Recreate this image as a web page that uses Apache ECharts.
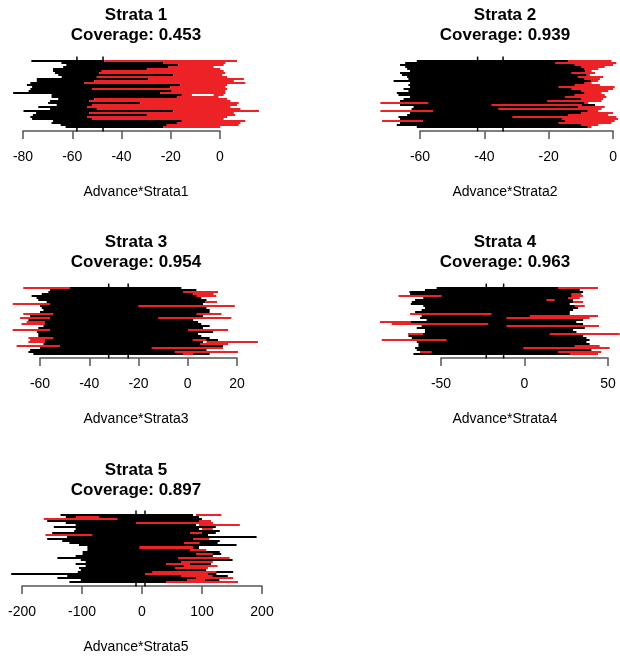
<!DOCTYPE html>
<html>
<head>
<meta charset="utf-8">
<script src="https://cdn.jsdelivr.net/npm/echarts@6/dist/echarts.min.js"></script>
<style>
  html, body { margin: 0; padding: 0; background: #fff; }
  #chart { width: 620px; height: 660px; }
</style>
</head>
<body>
<div id="chart"></div>
<script>
// panel texts
const panelNames = ['Strata 1', 'Strata 2', 'Strata 3', 'Strata 4', 'Strata 5'];
const coverage = ['0.453', '0.939', '0.954', '0.963', '0.897'];
const axisNames = ['Advance*Strata1', 'Advance*Strata2', 'Advance*Strata3', 'Advance*Strata4', 'Advance*Strata5'];

// x axis ticks
const xMin = [-80, -60, -60, -50, -200];
const xMax = [0, 0, 20, 50, 200];
const xStep = [20, 20, 20, 50, 100];

// the two vertical reference lines of each panel
const refLines = [[-58.1, -47.5], [-42.1, -34.2], [-32.1, -24.2], [-22.9, -12.5], [-10, 5]];

// black intervals, one [lo, hi] per row (top row first)
const black1 = [[-76.6,-47],[-64.4,-22.9],[-62.4,-16.9],[-63.7,-20.9],[-67.8,-29.7],[-67.8,-48],[-67,-49],[-65.7,-18.9],
  [-64.3,-50],[-74.4,-29],[-74.4,-51],[-77,-55],[-78.4,-16.2],[-76.3,-20.2],[-77,-52],[-77.7,-19.6],[-84,-24.3],
  [-68.4,-15.5],[-68.4,-17.5],[-65.7,-51],[-69,-53],[-69.8,-32.4],[-66.3,-52],[-73.8,-54],[-69,-50],[-79.8,-18.9],
  [-74.7,-53],[-76,-29.7],[-77,-54],[-76.3,-52],[-67.8,-15.5],[-68.4,-17.5],[-64.7,-21.6],[-62.7,-22.9]];
const black2 = [[-61,-7.7],[-64.6,-10.8],[-66.2,-8.7],[-64.6,-7.7],[-64,-8.7],[-63.1,-8.7],[-66.2,-9.7],[-65.6,-8.2],
  [-64,-7.7],[-63.6,-8.7],[-68.2,-6.2],[-63.1,-7.7],[-63.6,-8.2],[-63.1,-10.8],[-65.1,-8.7],[-63.6,-7.7],[-67.2,-7.2],
  [-66.7,-7.7],[-63.1,-9.2],[-65.1,-7.7],[-66.2,-8.7],[-65.6,-8.7],[-66.2,-5.6],[-62,-7.7],[-62.6,-8.2],[-63.1,-7.2],
  [-63.1,-6.2],[-64,-8.7],[-66.7,-11.8],[-66.2,-10.8],[-66.2,-9.7],[-66.2,-12.8],[-67.2,-8.7],[-61,-7.7]];
const black3 = [[-60,-2.6],[-55.9,3.5],[-56.6,4.2],[-59.3,4.2],[-63.4,5.5],[-61.4,5.5],[-60.7,7.6],[-57.3,8.9],
  [-60,6.2],[-60,6.9],[-59.3,7.6],[-58.6,8.9],[-60,8.9],[-64,7.6],[-64,6.2],[-64.7,4.2],[-64.7,2.2],[-62,4.2],
  [-60,5.5],[-58.6,8.9],[-60.7,6.2],[-64,5.5],[-61.3,10.3],[-60.7,4.2],[-60.7,5.5],[-60.7,8.9],[-62,12.3],
  [-60.7,6.2],[-58.6,7.6],[-64,14.3],[-60,6.2],[-64,7.6],[-64.7,6.2],[-62.7,8.9]];
const black4 = [[-52.6,34],[-59.6,33.1],[-68.9,35.1],[-68.5,32.1],[-62.5,31],[-60.6,30.1],[-65.5,29],[-67.5,31.1],
  [-68.1,27.1],[-60.6,31.1],[-59.6,32.1],[-61.6,29.1],[-65.5,27.1],[-62.5,27.1],[-61.6,33.1],[-62.5,30],[-58.6,35.1],
  [-70.5,31],[-77.5,35.1],[-61.6,39],[-64.5,36.1],[-59.6,29.1],[-59.6,31.1],[-69.5,49],[-69.5,35.1],[-67.5,37.1],
  [-64.5,39],[-64.5,37.1],[-63.5,39],[-63.5,36.1],[-65.5,33.1],[-64.5,40.1],[-62.5,36.1],[-66.5,33.1]];
const black5 = [[-135.8,85],[-127,95],[-140,100],[-158,105],[-127,100],[-110.6,90],[-147,123],[-110.6,95],
  [-113,129.6],[-149.7,123],[-127,110],[-125,191],[-158,105],[-133,129.6],[-121,126],[-105,157.6],[-91,95],
  [-91,100],[-99,129.6],[-99,132],[-110.6,118],[-141,90],[-102,151],[-93.9,100],[-110.6,115],[-93.9,95],
  [-105,90],[-102,107],[-107,152],[-218,124],[-124.6,143],[-141,105],[-102,129],[-121,95]];

// red intervals, [row, lo, hi]
const red1 = [[0,-47,6.9],[1,-22.9,2.2],[2,-16.9,1.5],[3,-20.9,-2.6],[4,-29.7,0.1],[5,-48,1.5],[6,-49,2.2],
  [7,-18.9,0.9],[8,-50,2.9],[9,-29,9.7],[10,-51,5.6],[11,-55,10.3],[12,-16.2,2.9],[13,-20.2,2.2],[14,-52,2.9],
  [15,-19.6,2.2],[16,-24.3,2.2],[17,-15.5,-11.4],[17,-2.6,1.5],[18,-17.5,-0.6],[19,-51,2.9],[20,-53,4.2],
  [21,-32.4,7.6],[22,-52,6.9],[23,-54,4.2],[24,-50,8.3],[25,-18.9,15.8],[26,-53,5.6],[27,-29.7,6.2],[28,-54,2.9],
  [29,-52,1.5],[30,-15.5,10.3],[31,-17.5,8.3],[32,-21.6,7.6],[33,-22.9,0.1]];
const red2 = [[0,-14,-0.5],[1,-18,1],[2,-12,0],[3,-10,-2.6],[4,-9,-4.6],[5,-8.7,-6.7],[6,-13,-5.6],[7,-8.2,-7.2],
  [8,-11,-3.1],[9,-9,-4.1],[10,-7,-4.6],[11,-9,-6.7],[12,-12,-4.1],[13,-17,0.5],[14,-13,0],[15,-10,-1.5],
  [16,-9,-3.6],[17,-12,-2.6],[18,-15,-2.1],[19,-10,-3.1],[20,-20.5,-3.6],[21,-72.3,-57.4],[21,-9,-7.7],
  [22,-37.8,-9.7],[23,-11,-2.6],[24,-35.7,-3.6],[25,-72.3,-55.9],[25,-8,-4.6],[26,-10,0],[27,-14,-1.5],
  [28,-31.3,1],[29,-16,1.5],[30,-71.8,-59],[30,-15,0.5],[31,-17,-0.5],[32,-10,-4.6],[33,-8,-6.7]];
const red3 = [[0,-66.8,-47.8],[2,-1.9,12.3],[3,2,10.5],[4,3.5,11.6],[7,7,11.9],[8,-71.1,-55.9],[9,-20.1,19.1],
  [13,-66.8,-54.6],[13,3.5,13.7],[15,-68.1,-55.9],[15,-12,17.7],[17,-65.4,-58],[18,-67.5,-58],[21,-71.1,-55.9],
  [21,0.1,16.4],[25,-64.7,-54.6],[26,-64,-58],[26,2,7.6],[27,-64.7,-58],[27,7.6,28.5],[28,5,16.4],
  [29,-69.5,-51.9],[30,-14.7,14.3],[32,-5.3,20.4],[33,-2,2.2]];
const red4 = [[0,20.1,44],[3,28,34.1],[4,-75.5,-49.6],[4,28,35],[5,26,33.1],[6,13.1,18.1],[7,29,35.1],[9,30,36.1],
  [13,-68.5,-19.7],[14,3.2,44],[15,-10.8,39],[17,-86.5,-68],[18,-79.5,-21.7],[19,-10.8,44.6],[23,-69.5,-60.6],
  [23,15.1,57],[26,-85.5,-46.6],[29,30,45],[30,-0.8,51],[32,-62.5,-55.6],[32,20.1,46],[33,27.1,44]];
const red5 = [[0,90,132.4],[1,-110,-71.5],[2,-163.7,-40.8],[3,95,115],[4,-10,118.4],[5,95,163],[7,100,118],
  [9,80,100],[10,-160.9,-82.7],[12,85,112],[14,70,96],[16,-4.5,85],[17,80,107],[19,90,118],[21,60,146],
  [23,65,118],[24,40,80],[25,70,126],[26,55,110],[28,17,124],[29,5,110],[30,65,118],[31,90,152],[32,75,105],
  [33,40,160]];

const blacks = [black1, black2, black3, black4, black5];
const reds = [red1, red2, red3, red4, red5];

const FONT = '"Liberation Sans", Arial, Helvetica, sans-serif';
const RED = '#ED2226';
const AXIS = '#555';

// plot boxes: grid covers the tick range, bars spill over it
const boxes = [
  { left: 23, width: 197, top: 57, height: 74, cx: 136, ty: 15 },
  { left: 420, width: 195, top: 57, height: 74, cx: 505, ty: 15 },
  { left: 40, width: 197, top: 284, height: 74, cx: 136, ty: 242 },
  { left: 441, width: 167, top: 284, height: 74, cx: 505, ty: 242 },
  { left: 22, width: 240, top: 511, height: 75, cx: 136, ty: 470 }
];

// each interval is a rectangle one row tall, snapped to whole pixels
function segItem(color) {
  return function (params, api) {
    const row = api.value(0);
    const a = api.coord([api.value(1), row - 0.5]);
    const b = api.coord([api.value(2), row + 0.5]);
    const y0 = Math.round(Math.min(a[1], b[1]));
    const y1 = Math.round(Math.max(a[1], b[1]));
    return {
      type: 'rect',
      shape: { x: a[0], y: y0, width: b[0] - a[0], height: y1 - y0 },
      style: { fill: color }
    };
  };
}

function refItem(params, api) {
  const p1 = api.coord([api.value(0), -2.2]);
  const p2 = api.coord([api.value(0), 35.2]);
  return {
    type: 'line',
    shape: { x1: p1[0], y1: p1[1], x2: p2[0], y2: p2[1] },
    style: { stroke: '#000', lineWidth: 1.5 }
  };
}

const grid = [], xAxis = [], yAxis = [], series = [], graphic = [];

boxes.forEach((b, i) => {
  grid.push({ left: b.left, top: b.top, width: b.width, height: b.height });
  xAxis.push({
    gridIndex: i, type: 'value', min: xMin[i], max: xMax[i], interval: xStep[i],
    axisLine: { show: true, onZero: false, lineStyle: { color: AXIS, width: 1.5 } },
    axisTick: { show: true, length: 8, lineStyle: { color: AXIS, width: 1.5 } },
    axisLabel: { margin: 19, color: '#000', fontSize: 14, fontFamily: FONT, showMinLabel: true, showMaxLabel: true },
    splitLine: { show: false }
  });
  yAxis.push({ gridIndex: i, type: 'value', min: -2, max: 35, inverse: true, show: false });

  series.push({
    type: 'custom', xAxisIndex: i, yAxisIndex: i, clip: false, silent: true, z: 1,
    data: refLines[i].map(v => [v]), renderItem: refItem
  });
  series.push({
    type: 'custom', xAxisIndex: i, yAxisIndex: i, clip: false, silent: true, z: 2,
    encode: { x: [1, 2], y: 0 },
    data: blacks[i].map((d, r) => [r, d[0], d[1]]), renderItem: segItem('#000')
  });
  series.push({
    type: 'custom', xAxisIndex: i, yAxisIndex: i, clip: false, silent: true, z: 3,
    encode: { x: [1, 2], y: 0 },
    data: reds[i], renderItem: segItem(RED)
  });

  const titleStyle = { fill: '#000', fontSize: 17, fontWeight: 'bold', fontFamily: FONT,
    align: 'center', verticalAlign: 'middle', textAlign: 'center', textVerticalAlign: 'middle' };
  graphic.push({ type: 'text', x: b.cx, y: b.ty, style: Object.assign({ text: panelNames[i] }, titleStyle) });
  graphic.push({ type: 'text', x: b.cx, y: b.ty + 20, style: Object.assign({ text: 'Coverage: ' + coverage[i] }, titleStyle) });
  graphic.push({
    type: 'text', x: b.cx, y: b.top + b.height + 61,
    style: { text: axisNames[i], fill: '#000', fontSize: 14, fontFamily: FONT,
      align: 'center', verticalAlign: 'middle', textAlign: 'center', textVerticalAlign: 'middle' }
  });
});

const chart = echarts.init(document.getElementById('chart'));
chart.setOption({
  animation: false,
  backgroundColor: '#fff',
  grid, xAxis, yAxis, series, graphic
});
</script>
</body>
</html>
